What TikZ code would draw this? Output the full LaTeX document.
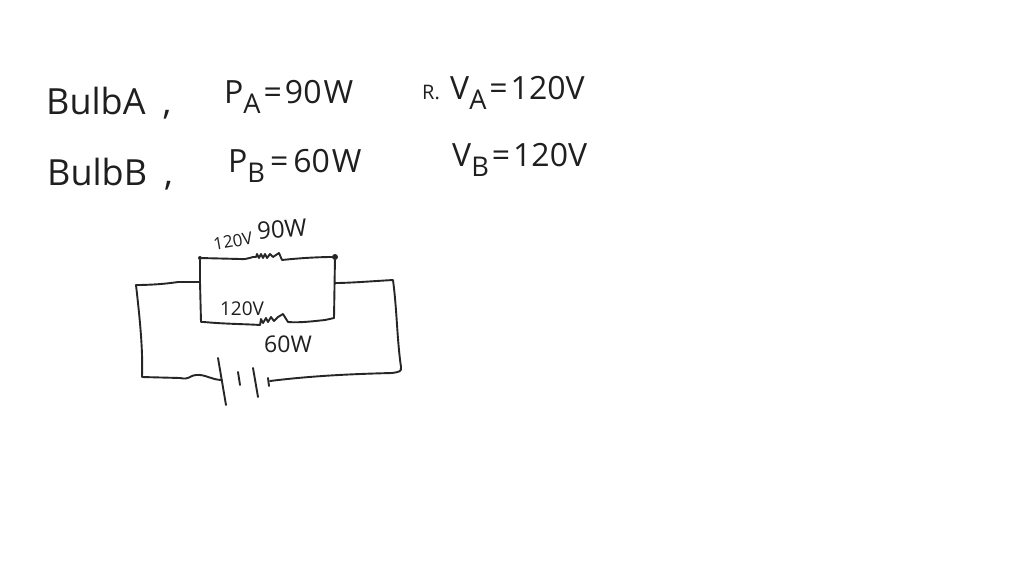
\documentclass[tikz,border=0pt]{standalone}
\usepackage{fontspec}
\setmainfont{Open Sans}
\newcommand{\lowered}[1]{\raisebox{-0.32em}{\scalebox{0.85}{#1}}}
\tikzset{
  x=1pt,y=-1pt,
  wire/.style={line width=1.9pt,line join=round,line cap=round,color=black!85},
  plate/.style={wire},
  big/.style={inner sep=0pt,anchor=west,font=\fontsize{32}{32}\selectfont,color=black!88},
  bulbtext/.style={big,font=\fontsize{36}{36}\selectfont},
  small/.style={inner sep=0pt,font=\fontsize{17}{17}\selectfont,color=black!88},
  dotj/.style={circle,fill=black!85,inner sep=0pt,minimum size=4pt},
}
\begin{document}
\begin{tikzpicture}
\useasboundingbox (0,0) rectangle (1024,576);
\fill[white] (0,0) rectangle (1024,576);
\node[bulbtext] (bulbA) at (46,103) {BulbA\hspace{17pt},};
\node[big] (pA) at (224,97) {P\lowered{A}\hspace{3pt}=\hspace{3pt}90\hspace{2pt}W};
\node[big,font=\fontsize{20}{20}\selectfont] (mark) at (422,92) {R.};
\node[big] (vA) at (450,93) {V\lowered{A}\hspace{3pt}=\hspace{3pt}120V};
\node[bulbtext] (bulbB) at (47,174) {BulbB\hspace{17pt},};
\node[big] (pB) at (228,166) {P\lowered{B}\hspace{5pt}=\hspace{5pt}60\hspace{2pt}W};
\node[big] (vB) at (452,160) {V\lowered{B}\hspace{3pt}=\hspace{3pt}120V};
\node[small,rotate=10] (lt) at (233,241) {120V};
\node[small,font=\fontsize{24}{24}\selectfont,rotate=4] (lw) at (282,229) {90W};
\node[small,font=\fontsize{19}{19}\selectfont] (lv2) at (242,309) {120V};
\node[small,font=\fontsize{23}{23}\selectfont] (lw2) at (288,344) {60W};

\node[dotj] (jl) at (200,258) {};
\node[dotj,minimum size=6pt] (jr) at (335,257) {};
\coordinate (bl) at (201,322);
\coordinate (br) at (334,318);
\coordinate (fl) at (200,282);
\coordinate (fr) at (335,283);
\coordinate (cl) at (136,285);
\coordinate (dl) at (142,377);
\coordinate (cr) at (393,280);
\coordinate (dr) at (401,367);
\coordinate (p1t) at (218,358);
\coordinate (p1b) at (226,405);
\coordinate (p2t) at (238,372);
\coordinate (p2b) at (240,385);
\coordinate (p3t) at (253,368);
\coordinate (p3b) at (258,397);
\coordinate (p4t) at (268,378);
\coordinate (p4b) at (269,386);
\coordinate (bw) at (222,380);
\coordinate (rw) at (270,381);

\draw[wire] (jl) -- (240,259) .. controls (248,260) and (252,256) .. (256,257)
  -- (257,254) -- (259,258) -- (261,254) -- (263,258) -- (265,254) -- (267,258) -- (270,254) -- (273,257) -- (279,253) -- (282,260)
  .. controls (300,258) and (320,257) .. (jr);
\draw[wire] (jl) -- (fl) -- (bl) -- (204,322) .. controls (225,324) and (245,324) .. (260,325)
  -- (261,319) -- (263,323) -- (266,318) -- (268,322) -- (271,317) -- (274,321) -- (278,317) -- (283,314) -- (288,322)
  .. controls (300,323) and (315,321) .. (325,320) -- (br) -- (jr);
\draw[wire] (fl) -- (178,282) .. controls (165,284) and (150,285) .. (cl)
  .. controls (140,320) and (143,350) .. (dl) -- (180,378)
  .. controls (190,380) and (188,376) .. (196,375) .. controls (205,374) and (212,380) .. (bw);
\draw[wire] (fr) .. controls (350,283) and (375,281) .. (cr)
  .. controls (397,310) and (397,340) .. (dr) .. controls (402,372) and (398,372) .. (392,373)
  .. controls (350,374) and (310,376) .. (rw);
\draw[plate] (p1t) -- (p1b);
\draw[plate] (p2t) -- (p2b);
\draw[plate] (p3t) -- (p3b);
\draw[plate] (p4t) -- (p4b);
\end{tikzpicture}
\end{document}
